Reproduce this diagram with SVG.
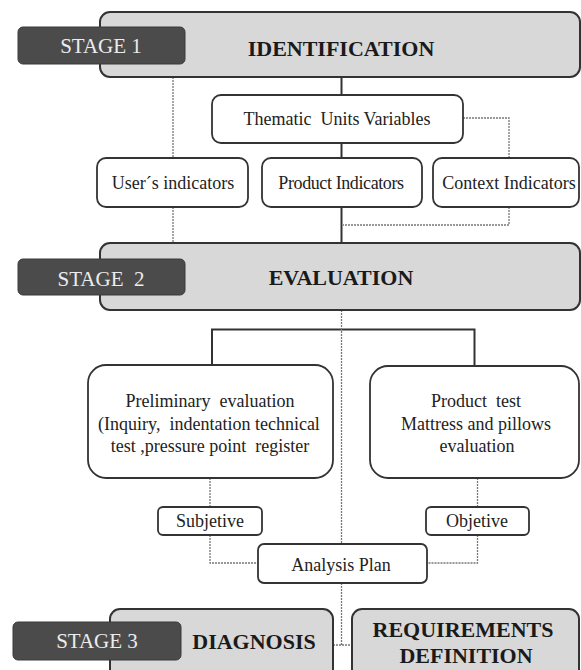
<svg xmlns="http://www.w3.org/2000/svg" width="581" height="670" viewBox="0 0 581 670">
<style>
.stage{fill:#d8d8d8;stroke:#333;stroke-width:2}
.tag{fill:#4b4b4b;stroke:#3a3a3a;stroke-width:1}
.tagt{font-family:"Liberation Serif",serif;font-size:21px;fill:#ececec;text-anchor:middle}
.title{font-family:"Liberation Serif",serif;font-size:22px;font-weight:bold;fill:#1a1a1a;text-anchor:middle}
.box{fill:#fff;stroke:#333;stroke-width:1.8}
.t{font-family:"Liberation Serif",serif;font-size:18px;fill:#222;text-anchor:middle}
.solid{fill:none;stroke:#333;stroke-width:2}
.dot{fill:none;stroke:#777;stroke-width:1.3;stroke-dasharray:2 1}
</style>
<rect width="581" height="670" fill="#fff"/>
<g id="connectors">
<path class="solid" d="M341.5 77V95M341.5 143V158M341.5 207V243"/>
<path class="solid" d="M212 365V329.5H474.5V366"/>
<path class="dot" d="M173 77V158M173 207V243"/>
<path class="dot" d="M463 118H509V158M509 207V225H343"/>
<path class="dot" d="M341.5 310V544M341.5 583V645M333 645H352"/>
<path class="dot" d="M210 478V507M210 535V563H258"/>
<path class="dot" d="M477.5 478V507M477.5 535V563H427"/>
</g>
<g id="stage1">
<rect class="stage" x="100" y="12" width="480" height="65" rx="10"/>
<rect class="tag" x="18" y="27" width="167" height="37" rx="5"/>
<text class="tagt" x="101" y="53">STAGE 1</text>
<text class="title" x="341" y="56">IDENTIFICATION</text>
</g>
<g id="thematic">
<rect class="box" x="212" y="95" width="251" height="48" rx="9"/>
<text class="t" x="337" y="125" xml:space="preserve">Thematic  Units Variables</text>
</g>
<g id="users">
<rect class="box" x="97" y="158" width="151" height="49" rx="9"/>
<text class="t" x="173" y="189">User´s indicators</text>
</g>
<g id="product">
<rect class="box" x="262" y="158" width="160" height="49" rx="9"/>
<text class="t" x="341" y="189" letter-spacing="-0.4">Product Indicators</text>
</g>
<g id="context">
<rect class="box" x="433" y="158" width="146" height="49" rx="9"/>
<text class="t" x="509" y="189">Context Indicators</text>
</g>
<g id="stage2">
<rect class="stage" x="100" y="243" width="480" height="67" rx="10"/>
<rect class="tag" x="18" y="259" width="167" height="36" rx="5"/>
<text class="tagt" x="101" y="286" xml:space="preserve">STAGE  2</text>
<text class="title" x="341" y="285">EVALUATION</text>
</g>
<g id="preliminary">
<rect class="box" x="88" y="365" width="245" height="113" rx="18"/>
<text class="t" x="210" y="407" xml:space="preserve">Preliminary  evaluation</text>
<text class="t" x="209" y="430" xml:space="preserve">(Inquiry,  indentation technical</text>
<text class="t" x="210" y="452" xml:space="preserve">test ,pressure point  register</text>
</g>
<g id="producttest">
<rect class="box" x="370" y="366" width="209" height="112" rx="18"/>
<text class="t" x="476" y="407" xml:space="preserve">Product  test</text>
<text class="t" x="476" y="430">Mattress and pillows</text>
<text class="t" x="477" y="452">evaluation</text>
</g>
<g id="subjetive">
<rect class="box" x="158" y="507" width="104" height="28" rx="5"/>
<text class="t" x="210" y="527">Subjetive</text>
</g>
<g id="objetive">
<rect class="box" x="426" y="507" width="103" height="28" rx="5"/>
<text class="t" x="477" y="527">Objetive</text>
</g>
<g id="analysis">
<rect class="box" x="258" y="544" width="169" height="39" rx="6"/>
<text class="t" x="341" y="571">Analysis Plan</text>
</g>
<g id="stage3">
<rect class="stage" x="110" y="609" width="223" height="75" rx="10"/>
<rect class="tag" x="13" y="622" width="168" height="38" rx="5"/>
<text class="tagt" x="97" y="648">STAGE 3</text>
<text class="title" x="254" y="649">DIAGNOSIS</text>
</g>
<g id="requirements">
<rect class="stage" x="352" y="609" width="227" height="75" rx="10"/>
<text class="title" x="463" y="637">REQUIREMENTS</text>
<text class="title" x="466" y="663">DEFINITION</text>
</g>
</svg>
